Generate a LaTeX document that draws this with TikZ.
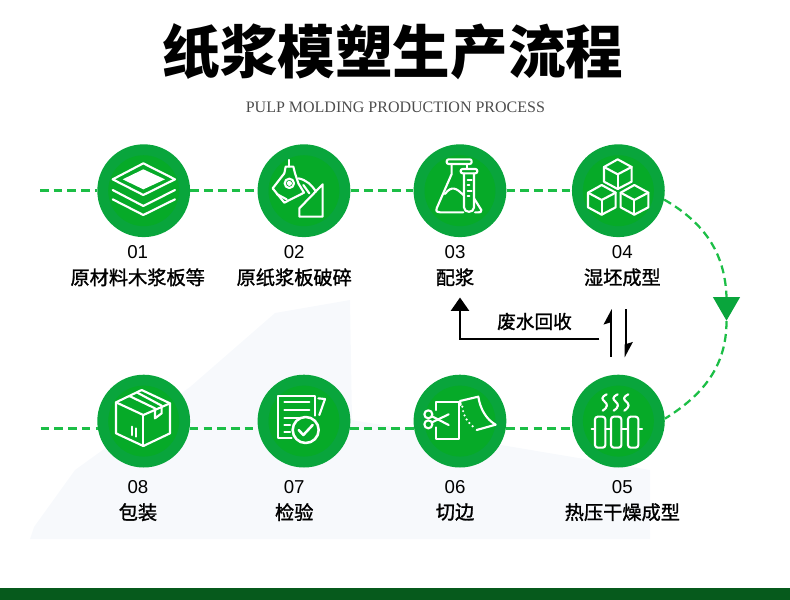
\documentclass[tikz,border=0pt]{standalone}
\usepackage{fontspec}
\usepackage{tikz}
\usetikzlibrary{positioning, arrows.meta, calc, shapes.geometric}
\setmainfont{Noto Sans CJK SC}
\newfontfamily\labfont{Noto Sans CJK SC}[FakeBold=1.4]
\newfontfamily\numfont{Liberation Sans}
\newfontfamily\subfont{Liberation Serif}
\definecolor{PMouter}{RGB}{9, 165, 60}
\definecolor{PMinner}{RGB}{6, 170, 40}
\definecolor{PMdash}{RGB}{28, 190, 70}
\definecolor{PMbar}{RGB}{6, 90, 28}
\definecolor{PMback}{RGB}{247, 249, 252}
\tikzset{
  stage/.style={circle, fill=PMouter, inner sep=0pt, minimum size=69.6pt,
    path picture={\fill[PMinner] (path picture bounding box.center) circle (26.6pt);}},
  num/.style={font=\numfont\fontsize{14}{15}\selectfont, inner sep=0pt},
  lab/.style={font=\labfont\fontsize{14.4}{15}\selectfont, inner sep=0pt},
  link/.style={PMdash, line width=1.9pt, dash pattern=on 6.5pt off 3.8pt},
  curvelink/.style={PMdash, line width=1.7pt, dash pattern=on 6pt off 3.6pt},
  back/.style={-{Triangle[width=13.5pt, length=10pt]}, line width=1.6pt, black},
  halfarrow/.style={-{Stealth[harpoon, width=10.5pt, length=10pt, inset=1.5pt]}, line width=1.6pt, black},
  icon/.style 2 args={shift={(#1,#2)}, x=0.25pt, y=-0.25pt, white, line width=1.6pt, line join=round, line cap=round},
}

\begin{document}
\begin{tikzpicture}[x=0.75pt, y=-0.75pt]
  \useasboundingbox (0,0) rectangle (790,600);
  % pale backdrop
  \fill[PMback] (30,539) -- (34,527) -- (75,470) -- (190,387) -- (275,313) -- (350,300) -- (352,420) -- (650,470) -- (650,539) -- cycle;
  \fill[PMbar] (0,588) rectangle (790,600);

  \node[font=\bfseries\fontsize{43.2}{44}\selectfont, inner sep=0pt] (title) at (393,52) {纸浆模塑生产流程};
  \node[font=\subfont\fontsize{12}{13}\selectfont, text=black!70, inner sep=0pt, below=16pt of title, xshift=1.8pt] (subtitle) {PULP MOLDING PRODUCTION PROCESS};

  \node[stage] (c01) at (143.7,190.7) {};
  \node[stage, right=50.2pt of c01] (c02) {};
  \node[stage, right=47pt of c02] (c03) {};
  \node[stage, right=48.8pt of c03] (c04) {};
  \node[stage, below=102.8pt of c01] (c08) {};
  \node[stage, below=102.8pt of c02] (c07) {};
  \node[stage, below=102.8pt of c03] (c06) {};
  \node[stage, below=102.8pt of c04] (c05) {};

  \node[num, below=6.2pt of c01, xshift=-4.5pt] (n01) {01};
  \node[num, below=6.2pt of c02, xshift=-7.3pt] (n02) {02};
  \node[num, below=6.2pt of c03, xshift=-3.7pt] (n03) {03};
  \node[num, below=6.2pt of c04, xshift=3pt] (n04) {04};
  \node[num, below=9.5pt of c08, xshift=-4.3pt] (n08) {08};
  \node[num, below=9.5pt of c07, xshift=-7.3pt] (n07) {07};
  \node[num, below=9.5pt of c06, xshift=-3.7pt] (n06) {06};
  \node[num, below=9.5pt of c05, xshift=3pt] (n05) {05};

  \node[lab, below=6.6pt of n01] (t01) {原材料木浆板等};
  \node[lab, below=6.6pt of n02] (t02) {原纸浆板破碎};
  \node[lab, below=6.6pt of n03] (t03) {配浆};
  \node[lab, below=6.6pt of n04] (t04) {湿坯成型};
  \node[lab, below=6.6pt of n08] (t08) {包装};
  \node[lab, below=6.6pt of n07] (t07) {检验};
  \node[lab, below=6.6pt of n06] (t06) {切边};
  \node[lab, below=6.6pt of n05] (t05) {热压干燥成型};

  \coordinate (start1) at (40,190.7);
  \path (c08.-171) ++(-57,0) coordinate (start2);
  \draw[link] (start1) -- (c01);
  \draw[link] (c01) -- (c02);
  \draw[link] (c02) -- (c03);
  \draw[link] (c03) -- (c04);
  \draw[link] (start2) -- (c08.-171);
  \draw[link] (c08.-9) -- (c07.189);
  \draw[link] (c07.-9) -- (c06.189);
  \draw[link] (c06.-9) -- (c05.189);

  \node[regular polygon, regular polygon sides=3, shape border rotate=180, fill=PMouter, inner sep=0pt, minimum size=23.5pt] (drop) at (726.5,305) {};
  \draw[curvelink] (c04.-11) to[out=-30, in=92] (drop.north);
  \draw[curvelink] (drop.south) to[out=-90, in=32] (c05.3);

  \node[font=\labfont\fontsize{14}{15}\selectfont, inner sep=0pt] (reuse) at (534.5,321.5) {废水回收};
  \coordinate (ret0) at (599.3,339);
  \coordinate (ret1) at (460,297.5);
  \coordinate (up0) at (610.7,356.7);
  \coordinate (up1) at (610.7,309);
  \coordinate (dn0) at (625.7,309);
  \coordinate (dn1) at (625.7,357.5);
  \draw[back] (ret0) -| (ret1);
  \draw[halfarrow] (up0) -- (up1);
  \draw[halfarrow] (dn0) -- (dn1);

  % 01 layers
  \begin{scope}[icon={40}{130}]
    \draw (218,148) -- (310,100) -- (405,148) -- (310,195) -- cycle;
    \fill (248,148) -- (310,118) -- (375,148) -- (310,178) -- cycle;
    \draw (218,180) -- (310,228) -- (405,180);
    \draw (218,208) -- (310,255) -- (405,208);
  \end{scope}
  % 02 bucket and pile
  \begin{scope}[icon={40}{130}]
    \draw (748,90) -- (748,110);
    \draw (737,110) -- (760,110) -- (765,130) -- (775,160) -- (792,188) -- (733,218) -- (698,175) -- (733,130) -- cycle;
    \draw (748,160) circle (14);
    \draw (748,160) circle (5);
    \draw (710,192) -- (740,208);
    \draw (775,145) .. controls (800,150) and (815,165) .. (828,185);
    \draw (790,165) -- (808,190);
    \draw (848,163) -- (848,260) -- (778,260) -- (778,235) -- cycle;
  \end{scope}
  % 03 flask and tube
  \begin{scope}[icon={400}{130}]
    \draw[rounded corners=1.5pt] (140,88) rectangle (215,102);
    \draw (155,102) -- (155,132) -- (110,235) .. controls (107,245) and (112,247) .. (120,247) -- (190,247);
    \draw (200,102) -- (200,115);
    \draw (135,192) .. controls (155,165) and (170,175) .. (190,195);
    \draw[rounded corners=1.5pt] (182,117) rectangle (232,130);
    \draw (192,130) -- (192,232) .. controls (192,250) and (222,250) .. (222,232) -- (222,130);
    \draw (222,205) -- (244,240) .. controls (246,246) and (240,247) .. (236,247) -- (225,247);
    \foreach \yy/\xx in {150/215, 165/208, 182/215, 197/208} {\draw (203,\yy) -- (\xx,\yy);}
  \end{scope}
  % 04 cubes
  \begin{scope}[icon={400}{130}]
    \foreach \cx/\cy in {653/133, 605/210, 703/210} {
      \draw (\cx,\cy-45) -- (\cx+42,\cy-22) -- (\cx+42,\cy+22) -- (\cx,\cy+44) -- (\cx-41,\cy+22) -- (\cx-41,\cy-22) -- cycle;
      \draw (\cx-41,\cy-22) -- (\cx,\cy) -- (\cx+42,\cy-22);
      \draw (\cx,\cy) -- (\cx,\cy+44);
    }
  \end{scope}
  % 05 steam and heater
  \begin{scope}[icon={400}{290}]
    \foreach \xx in {614, 647, 679} {
      \draw (\xx+6,313) .. controls (\xx-12,322) and (\xx-8,328) .. (\xx,335) .. controls (\xx+8,342) and (\xx+12,350) .. (\xx-6,362);
    }
    \foreach \xx in {585, 633, 684} {
      \draw[rounded corners=2pt] (\xx,380) rectangle (\xx+31,473);
    }
    \draw (616,418) -- (633,418);
    \draw (664,418) -- (684,418);
    \draw (575,418) -- (585,418);
    \draw (715,418) -- (726,418);
  \end{scope}
  % 06 scissors and sheet
  \begin{scope}[icon={400}{290}]
    \draw (108,360) -- (108,336) -- (176,336) -- (176,446) -- (108,446) -- (108,412);
    \draw (85,373) circle (12);
    \draw (85,403) circle (12);
    \draw (96,379) -- (146,405);
    \draw (96,397) -- (146,373);
    \draw (182,345) -- (180,333) -- (235,320) .. controls (240,355) and (258,388) .. (287,404) -- (230,420);
    \draw[line width=1.8pt, dash pattern=on 0pt off 3.4pt] (187,350) .. controls (190,380) and (205,400) .. (225,414);
  \end{scope}
  % 07 report and check
  \begin{scope}[icon={40}{365}]
    \draw (755,220) -- (715,220) -- (715,92) -- (825,92) -- (825,152);
    \draw (835,100) -- (855,102) -- (838,150);
    \foreach \yy/\xx in {110/808, 135/808, 158/780, 180/750, 202/750} {\draw (733,\yy) -- (\xx,\yy);}
    \fill[PMinner] (797,195) circle (42);
    \draw[line width=1.9pt] (797,195) circle (39);
    \draw[line width=1.9pt] (776,195) -- (790,210) -- (818,180);
  \end{scope}
  % 08 box
  \begin{scope}[icon={40}{365}]
    \draw (305,75) -- (390,115) -- (390,205) -- (310,243) -- (228,205) -- (228,112) -- cycle;
    \draw (228,112) -- (310,150) -- (390,115);
    \draw (310,150) -- (310,243);
    \draw (268,93) -- (345,130) -- (345,160) -- (365,145) -- (365,122) -- (292,83);
    \draw (275,185) -- (275,210);
    \draw (288,190) -- (288,215);
  \end{scope}
\end{tikzpicture}
\end{document}
